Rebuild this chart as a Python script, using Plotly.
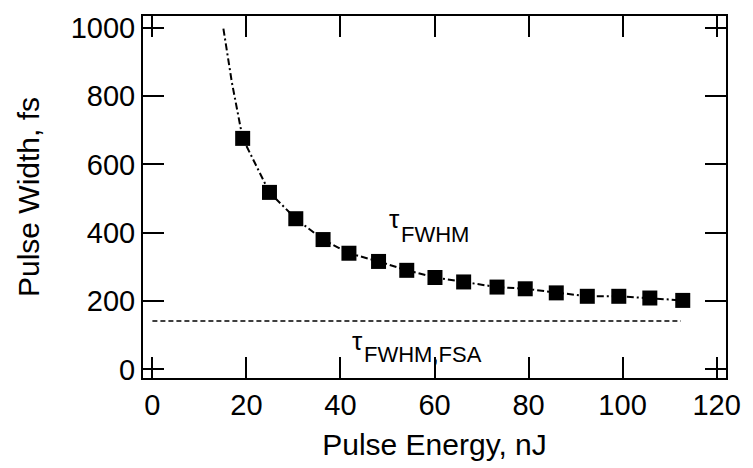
import plotly.graph_objects as go

# Measured data (squares)
energy = [19.2, 24.9, 30.5, 36.3, 41.8, 48.1, 54.1, 60.1, 66.2, 73.3, 79.3, 85.9, 92.5, 99.2, 105.8, 112.8]
width = [676, 518, 441, 380, 340, 316, 290, 269, 256, 241, 236, 224, 214, 214, 209, 202]

# Fit curve (dash-dot)
fit_x = [15.1, 16.9, 19.2, 24.9, 30.5, 36.3, 41.8, 48.1, 54.1, 60.1, 66.2, 73.3, 79.3, 85.9, 92.5, 99.2, 105.8, 112.8]
fit_y = [997, 840, 676, 518, 441, 380, 340, 316, 290, 269, 256, 241, 236, 224, 214, 214, 209, 202]

# FSA limit (dashed)
fsa_x = [0, 112.4]
fsa_y = [142, 142]

x_ticks = [0, 20, 40, 60, 80, 100, 120]
y_ticks = [0, 200, 400, 600, 800, 1000]

FONT = "Liberation Sans, Arial, Helvetica, sans-serif"

fig = go.Figure()
fig.add_trace(go.Scatter(x=fit_x, y=fit_y, mode="lines",
                         line=dict(color="black", width=2, dash="7px,3px,2px,3px"),
                         showlegend=False))
fig.add_trace(go.Scatter(x=fsa_x, y=fsa_y, mode="lines",
                         line=dict(color="black", width=1.5, dash="5px,3px"),
                         showlegend=False))
fig.add_trace(go.Scatter(x=energy, y=width, mode="markers",
                         marker=dict(symbol="square", size=15, color="black",
                                     line=dict(width=0)),
                         showlegend=False))

# labels: tau + subscript as separate texts
def label(x, y, text, size):
    fig.add_annotation(x=x, y=y, xref="x", yref="y", text=text,
                       showarrow=False, xanchor="left", yanchor="middle",
                       font=dict(family=FONT, size=size, color="black"))

label(49.9, 440, "τ", 26)
label(52.4, 394, "FWHM", 22)
label(42.0, 84, "τ", 26)
label(44.5, 45, "FWHM,FSA", 22)

axis_common = dict(showline=True, linewidth=2, linecolor="black", mirror="ticks",
                   ticks="inside", ticklen=21, tickwidth=2, tickcolor="black",
                   showgrid=False, zeroline=False,
                   tickfont=dict(family=FONT, size=29, color="black"))

fig.update_xaxes(range=[-2, 122], tickvals=x_ticks, ticktext=[str(v) for v in x_ticks],
                 title=dict(text="Pulse Energy, nJ", standoff=14,
                            font=dict(family=FONT, size=30, color="black")),
                 **axis_common)
fig.update_yaxes(range=[-25, 1034], tickvals=y_ticks, ticktext=[str(v) for v in y_ticks],
                 title=dict(text="Pulse Width, fs", standoff=22,
                            font=dict(family=FONT, size=30, color="black")),
                 **axis_common)

fig.update_layout(width=753, height=468, margin=dict(l=143, r=18, t=15, b=90),
                  paper_bgcolor="white", plot_bgcolor="white", showlegend=False)

fig.write_html("out.html")
